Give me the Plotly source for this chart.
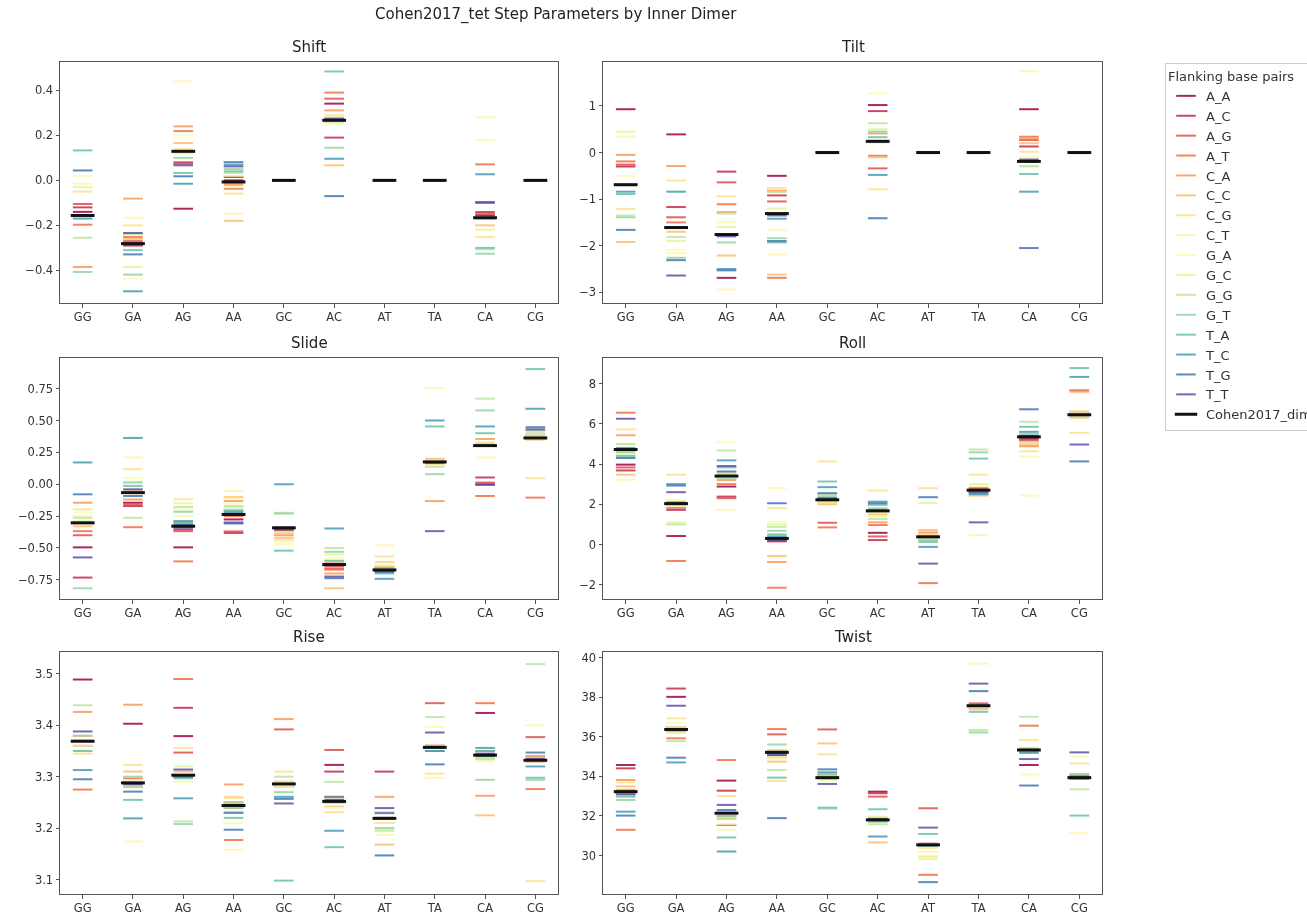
import plotly.graph_objects as go

# ---------------- data ----------------
steps = ["GG", "GA", "AG", "AA", "GC", "AC", "AT", "TA", "CA", "CG"]
flanks = ["A_A", "A_C", "A_G", "A_T", "C_A", "C_C", "C_G", "C_T",
          "G_A", "G_C", "G_G", "G_T", "T_A", "T_C", "T_G", "T_T"]
flank_colors = ["#9e0142", "#c32a4b", "#df4e4b", "#f46d43", "#fa9857", "#fdbe6f",
                "#fee08b", "#fff5ae", "#f7fcb2", "#e6f598", "#bfe5a0", "#94d4a4",
                "#66c2a5", "#439bb5", "#4175b4", "#5e4fa2"]
params = ["Shift", "Tilt", "Slide", "Roll", "Rise", "Twist"]

Z16 = [0.0] * 16

# each row: one inner dimer step, 16 values in flank order
shift_vals = [
    [-0.14, -0.12, -0.105, -0.197, -0.385, -0.16, -0.05, -0.015, 0.02, -0.03, -0.255, -0.407, 0.133, -0.17, 0.044, -0.155],
    [-0.285, -0.29, -0.27, -0.252, -0.081, -0.26, -0.2, -0.166, -0.437, -0.385, -0.24, -0.419, -0.31, -0.493, -0.329, -0.234],
    [-0.126, 0.08, 0.074, 0.219, 0.24, 0.166, 0.14, 0.44, 0.2, 0.12, 0.13, 0.10, 0.033, -0.015, 0.018, 0.067],
    [0.0, 0.015, -0.01, -0.037, -0.02, -0.18, -0.059, -0.148, -0.03, 0.02, 0.033, 0.05, 0.04, 0.07, 0.081, 0.062],
    Z16,
    [0.341, 0.19, 0.363, 0.39, 0.311, 0.067, 0.289, 0.28, 0.25, 0.27, 0.26, 0.145, 0.484, 0.096, -0.07, 0.275],
    Z16,
    Z16,
    [-0.156, -0.141, -0.15, 0.071, -0.17, -0.2, -0.252, 0.28, 0.178, -0.219, -0.307, -0.326, -0.3, 0.027, -0.096, -0.1],
    Z16,
]
shift_dimer = [-0.156, -0.281, 0.129, -0.007, 0.0, 0.267, 0.0, 0.0, -0.166, 0.0]

tilt_vals = [
    [0.93, -0.3, -0.26, -0.19, -0.05, -1.92, -1.21, 0.34, -0.5, 0.45, -1.35, -1.39, -0.89, -0.84, -1.66, -0.7],
    [0.39, -1.17, -1.39, -1.5, -0.29, -1.7, -0.6, -2.16, -2.09, -1.9, -1.81, -2.26, -1.6, -0.84, -2.31, -2.64],
    [-2.69, -0.41, -0.64, -1.11, -1.28, -2.21, -0.94, -2.94, -1.5, -1.6, -1.31, -1.93, -1.75, -2.5, -2.53, -1.8],
    [-0.5, -0.92, -1.05, -2.69, -0.82, -2.62, -0.76, -2.19, -1.66, -1.2, -0.85, -1.84, -1.93, -1.42, -1.9, -1.35],
    Z16,
    [1.02, 0.89, -0.34, -0.07, 0.41, -0.1, -0.79, 0.2, 1.27, 0.5, 0.63, 0.45, 0.33, -0.48, -1.41, 0.25],
    Z16,
    Z16,
    [0.93, 0.13, 0.27, 0.34, 0.3, 0.2, 0.02, 1.75, -0.1, -0.3, -0.29, -0.2, -0.46, -0.84, -2.05, -0.15],
    Z16,
]
tilt_dimer = [-0.69, -1.61, -1.76, -1.31, 0.0, 0.24, 0.0, 0.0, -0.19, 0.0]

slide_vals = [
    [-0.495, -0.732, -0.4, -0.368, -0.145, -0.33, -0.197, -0.25, -0.22, -0.29, -0.263, -0.816, -0.3, 0.171, -0.079, -0.574],
    [-0.145, -0.171, -0.16, -0.337, -0.12, -0.05, 0.118, 0.21, 0.05, 0.02, -0.263, 0.013, -0.013, 0.363, -0.092, -0.04],
    [-0.495, -0.355, -0.368, -0.605, -0.33, -0.3, -0.118, -0.25, -0.2, -0.15, -0.179, -0.216, -0.3, -0.289, -0.316, -0.34],
    [-0.276, -0.382, -0.37, -0.25, -0.132, -0.1, -0.105, -0.053, -0.15, -0.18, -0.171, -0.2, -0.21, -0.22, -0.308, -0.3],
    [-0.35, -0.34, -0.36, -0.38, -0.4, -0.42, -0.434, -0.45, -0.47, -0.38, -0.224, -0.23, -0.521, 0.0, -0.34, -0.355],
    [-0.62, -0.64, -0.66, -0.67, -0.7, -0.816, -0.6, -0.62, -0.58, -0.55, -0.5, -0.53, -0.6, -0.347, -0.737, -0.724],
    [-0.66, -0.67, -0.68, -0.65, -0.645, -0.611, -0.566, -0.479, -0.62, -0.64, -0.66, -0.68, -0.70, -0.742, -0.69, -0.68],
    [0.18, 0.17, 0.19, 0.16, -0.132, 0.2, 0.19, 0.755, 0.15, 0.18, 0.137, 0.079, 0.453, 0.5, 0.17, -0.368],
    [0.0, 0.053, 0.013, -0.092, 0.355, 0.32, 0.3, 0.21, 0.3, 0.33, 0.671, 0.579, 0.4, 0.453, 0.3, -0.005],
    [0.37, 0.38, 0.36, -0.105, 0.36, 0.35, 0.047, 0.37, 0.36, 0.38, 0.40, 0.421, 0.903, 0.592, 0.447, 0.43],
]
slide_dimer = [-0.303, -0.066, -0.329, -0.237, -0.342, -0.63, -0.672, 0.175, 0.303, 0.363]

roll_vals = [
    [3.97, 3.68, 3.83, 6.55, 5.43, 3.47, 5.72, 3.22, 4.97, 4.5, 5.0, 4.6, 4.4, 4.8, 4.3, 6.25],
    [0.42, 1.72, 1.83, -0.82, 2.1, 2.0, 3.47, 2.2, 1.9, 1.1, 1.0, 2.0, 2.1, 3.0, 2.93, 2.6],
    [2.88, 2.38, 2.3, 3.0, 3.2, 3.5, 3.42, 1.72, 5.08, 3.6, 4.67, 3.25, 3.83, 4.18, 3.63, 3.9],
    [0.2, 0.3, 0.15, -2.15, -0.87, -0.58, 1.8, 2.8, 1.13, 1.0, 0.88, 0.68, 0.5, 0.4, 2.05, 0.18],
    [2.2, 2.3, 1.08, 0.85, 2.1, 2.0, 4.13, 2.2, 2.3, 2.1, 2.5, 2.4, 3.13, 2.85, 2.55, 2.3],
    [0.58, 0.22, 0.4, 0.97, 1.1, 1.5, 2.68, 1.6, 1.7, 1.4, 1.27, 1.8, 1.97, 2.13, 2.05, 1.7],
    [0.4, 0.3, 0.5, -1.92, 0.6, 0.72, 2.8, 0.5, 0.3, 2.05, 0.4, 0.2, 0.13, -0.12, 2.35, -0.95],
    [2.6, 2.7, 2.8, 2.55, 2.65, 2.43, 3.47, 0.47, 2.9, 3.0, 4.72, 4.58, 4.27, 2.5, 2.6, 1.1],
    [5.3, 5.2, 5.4, 4.97, 4.88, 5.1, 4.63, 4.38, 2.43, 5.0, 6.1, 5.5, 5.85, 5.6, 6.72, 5.4],
    [6.5, 6.4, 6.6, 7.67, 7.6, 6.3, 5.55, 6.4, 6.5, 6.6, 6.45, 6.4, 8.77, 8.33, 4.13, 4.97],
]
roll_dimer = [4.72, 2.03, 3.4, 0.3, 2.22, 1.67, 0.38, 2.7, 5.35, 6.45]

rise_vals = [
    [3.489, 3.36, 3.37, 3.275, 3.426, 3.379, 3.345, 3.35, 3.36, 3.37, 3.439, 3.38, 3.35, 3.313, 3.295, 3.388],
    [3.403, 3.29, 3.28, 3.297, 3.44, 3.31, 3.323, 3.174, 3.30, 3.29, 3.28, 3.30, 3.255, 3.219, 3.271, 3.285],
    [3.379, 3.434, 3.347, 3.49, 3.30, 3.31, 3.356, 3.30, 3.29, 3.32, 3.213, 3.208, 3.297, 3.258, 3.30, 3.314],
    [3.24, 3.25, 3.23, 3.177, 3.285, 3.26, 3.259, 3.158, 3.21, 3.24, 3.25, 3.24, 3.22, 3.23, 3.197, 3.245],
    [3.28, 3.29, 3.392, 3.28, 3.412, 3.285, 3.31, 3.29, 3.28, 3.29, 3.30, 3.27, 3.098, 3.261, 3.257, 3.248],
    [3.323, 3.31, 3.352, 3.26, 3.25, 3.242, 3.231, 3.24, 3.25, 3.26, 3.29, 3.25, 3.163, 3.195, 3.261, 3.255],
    [3.22, 3.31, 3.23, 3.21, 3.261, 3.168, 3.20, 3.187, 3.21, 3.22, 3.195, 3.20, 3.22, 3.229, 3.147, 3.239],
    [3.36, 3.35, 3.443, 3.36, 3.35, 3.36, 3.306, 3.298, 3.397, 3.35, 3.416, 3.36, 3.35, 3.35, 3.324, 3.386],
    [3.424, 3.34, 3.35, 3.443, 3.263, 3.225, 3.34, 3.33, 3.34, 3.335, 3.334, 3.294, 3.35, 3.356, 3.34, 3.345],
    [3.33, 3.34, 3.377, 3.276, 3.33, 3.34, 3.097, 3.40, 3.33, 3.33, 3.519, 3.294, 3.298, 3.32, 3.347, 3.335],
]
rise_dimer = [3.369, 3.288, 3.303, 3.244, 3.286, 3.252, 3.219, 3.357, 3.342, 3.332]

twist_vals = [
    [34.58, 34.41, 33.3, 31.3, 33.82, 33.5, 33.70, 33.4, 33.2, 33.0, 33.1, 32.81, 32.98, 32.22, 32.02, 33.1],
    [38.03, 38.45, 36.5, 35.93, 36.4, 36.3, 36.94, 36.5, 36.72, 36.2, 35.79, 36.3, 36.4, 34.71, 34.95, 37.58],
    [33.79, 33.28, 31.55, 34.83, 32.0, 31.85, 33.01, 31.30, 31.6, 32.2, 31.9, 32.0, 30.91, 30.20, 32.3, 32.56],
    [35.3, 35.2, 36.13, 36.4, 34.95, 34.75, 33.77, 35.0, 34.9, 35.3, 34.33, 35.62, 33.94, 35.1, 31.89, 35.08],
    [34.0, 33.9, 36.38, 34.1, 33.9, 35.67, 35.12, 34.0, 33.8, 34.0, 32.36, 34.1, 32.42, 34.21, 34.36, 33.62],
    [33.23, 33.15, 32.98, 31.9, 31.8, 30.66, 31.9, 31.7, 31.8, 31.97, 31.58, 31.7, 32.34, 30.96, 31.8, 31.85],
    [30.5, 30.6, 32.39, 29.02, 30.5, 30.4, 29.95, 30.2, 30.4, 29.83, 30.6, 30.5, 31.09, 30.5, 28.65, 31.41],
    [37.6, 37.5, 37.7, 37.5, 37.6, 37.4, 37.6, 39.71, 37.5, 37.6, 36.35, 36.23, 37.27, 37.6, 38.32, 38.70],
    [34.58, 35.3, 35.4, 36.57, 35.3, 35.2, 35.84, 34.1, 35.3, 35.45, 37.02, 35.4, 35.3, 35.2, 33.54, 34.88],
    [34.0, 33.9, 34.0, 33.9, 34.0, 34.1, 34.66, 31.13, 35.0, 34.0, 33.35, 34.12, 32.02, 33.9, 34.0, 35.22],
]
twist_dimer = [33.23, 36.38, 32.14, 35.22, 33.94, 31.80, 30.54, 37.58, 35.34, 33.94]

all_vals = [shift_vals, tilt_vals, slide_vals, roll_vals, rise_vals, twist_vals]
all_dimer = [shift_dimer, tilt_dimer, slide_dimer, roll_dimer, rise_dimer, twist_dimer]

y_ranges = [[-0.545, 0.526], [-3.23, 1.944], [-0.90, 0.99],
            [-2.71, 9.27], [3.072, 3.5425], [28.05, 40.3]]
y_ticks = [(-0.4, 0.2, ".1f"), (-3, 1, "d"), (-0.75, 0.25, ".2f"),
           (-2, 2, "d"), (3.1, 0.1, ".1f"), (30, 2, "d")]

# ---------------- layout geometry (pixels) ----------------
W, H = 1307, 916
col_px = [(60, 558), (603, 1102)]
row_px = [(62, 303), (358, 599), (652, 894)]
FONT = "DejaVu Sans"

fig = go.Figure()

for k, pname in enumerate(params):
    r, c = divmod(k, 2)
    xa = "x" if k == 0 else f"x{k+1}"
    ya = "y" if k == 0 else f"y{k+1}"
    vals = all_vals[k]
    for j, fl in enumerate(flanks):
        fig.add_trace(go.Scatter(
            x=steps, y=[vals[i][j] for i in range(len(steps))],
            mode="markers", name=fl, legendgroup=fl, showlegend=(k == 0),
            xaxis=xa, yaxis=ya, opacity=0.85,
            marker=dict(symbol="line-ew", size=14, color=flank_colors[j],
                        line=dict(color=flank_colors[j], width=2)),
        ))
    fig.add_trace(go.Scatter(
        x=steps, y=all_dimer[k], mode="markers", name="Cohen2017_dimer",
        legendgroup="dimer", showlegend=(k == 0), xaxis=xa, yaxis=ya,
        marker=dict(symbol="line-ew", size=17, color="#111111",
                    line=dict(color="#111111", width=3)),
    ))

    x0, x1 = col_px[c]
    y0, y1 = row_px[r]
    axis_common = dict(showline=True, mirror=True, linecolor="#555555", linewidth=1,
                       ticks="outside", ticklen=3.5, tickcolor="#555555",
                       tickfont=dict(size=11.5, color="#333333", family=FONT),
                       showgrid=False, zeroline=False)
    t0, dt, fmt = y_ticks[k]
    fig.layout[("xaxis" if k == 0 else f"xaxis{k+1}")] = dict(
        domain=[x0 / W, x1 / W], anchor=ya, type="category",
        categoryorder="array", categoryarray=steps, range=[-0.45, 9.45], **axis_common)
    fig.layout[("yaxis" if k == 0 else f"yaxis{k+1}")] = dict(
        domain=[1 - y1 / H, 1 - y0 / H], anchor=xa, range=y_ranges[k],
        tick0=t0, dtick=dt, tickformat=fmt, **axis_common)
    fig.add_annotation(text=pname, x=(x0 + x1) / 2 / W, y=1 - (y0 - 15) / H,
                       xref="paper", yref="paper", showarrow=False,
                       xanchor="center", yanchor="middle",
                       font=dict(size=15, color="#222222", family=FONT))

fig.add_annotation(text="Cohen2017_tet Step Parameters by Inner Dimer",
                   x=556 / W, y=1 - 15 / H, xref="paper", yref="paper",
                   showarrow=False, xanchor="center", yanchor="middle",
                   font=dict(size=15, color="#222222", family=FONT))

fig.update_layout(
    width=W, height=H,
    margin=dict(l=0, r=0, t=0, b=0, autoexpand=False),
    paper_bgcolor="white", plot_bgcolor="white",
    font=dict(family=FONT, color="#333333"),
    legend=dict(x=1165 / W, y=1 - 63 / H, xanchor="left", yanchor="top",
                bordercolor="#cccccc", borderwidth=1, bgcolor="white",
                font=dict(size=13, color="#333333", family=FONT),
                title=dict(text="Flanking base pairs", font=dict(size=13)),
                tracegroupgap=0),
)

fig.write_html("out.html", config={"displayModeBar": False},
               post_script="document.body.style.margin='0';")
